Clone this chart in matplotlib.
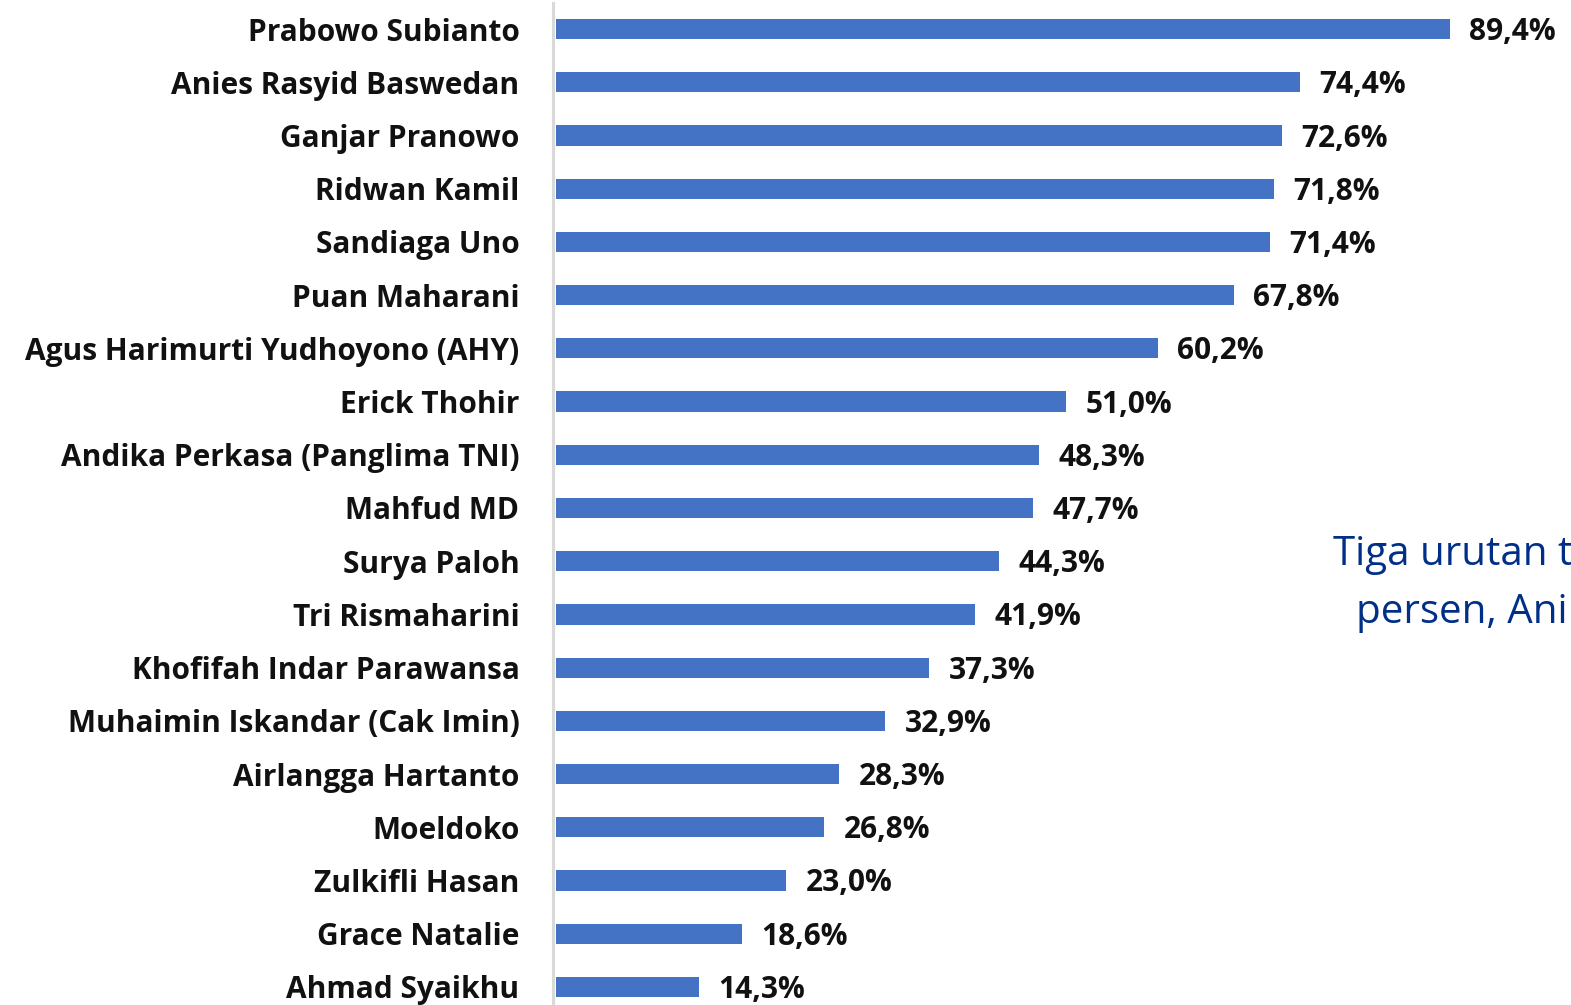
import matplotlib
matplotlib.use("Agg")
import matplotlib.pyplot as plt

names = ["Prabowo Subianto", "Anies Rasyid Baswedan", "Ganjar Pranowo", "Ridwan Kamil",
         "Sandiaga Uno", "Puan Maharani", "Agus Harimurti Yudhoyono (AHY)", "Erick Thohir",
         "Andika Perkasa (Panglima TNI)", "Mahfud MD", "Surya Paloh", "Tri Rismaharini",
         "Khofifah Indar Parawansa", "Muhaimin Iskandar (Cak Imin)", "Airlangga Hartanto",
         "Moeldoko", "Zulkifli Hasan", "Grace Natalie", "Ahmad Syaikhu"]
values = [89.4, 74.4, 72.6, 71.8, 71.4, 67.8, 60.2, 51.0, 48.3, 47.7, 44.3, 41.9,
          37.3, 32.9, 28.3, 26.8, 23.0, 18.6, 14.3]
note_lines = ["Tiga urutan t", "persen, Ani"]

W, H = 1571, 1005
fig = plt.figure(figsize=(W / 100, H / 100), dpi=100)
left_px, top_px = 555.5, 3
ax = fig.add_axes([left_px / W, 0, 1 - left_px / W, 1 - top_px / H])

font = "Open Sans"
ypos = list(range(len(names)))
for s in ["top", "right", "bottom"]:
    ax.spines[s].set_visible(False)
ax.spines["left"].set_position(("outward", 2))
ax.spines["left"].set_color("#D9D9D9")
ax.spines["left"].set_linewidth(2.2)

ax.barh(ypos, values, height=0.38, color="#4472C4", zorder=2)
ax.set_ylim(18.34, -0.49)
ax.set_xlim(0, (W - left_px) / 10.0)

for y, v in zip(ypos, values):
    ax.annotate(f"{v:.1f}%".replace(".", ","), xy=(v, y), xytext=(20, -3),
                textcoords="offset pixels", va="center", ha="left",
                fontsize=21.5, fontweight="bold", family=font, color="#111111")

ax.set_yticks(ypos)
ax.set_yticklabels(names, fontsize=21.5, fontweight="bold", family=font, color="#111111")
ax.tick_params(axis="y", length=0, pad=24)
ax.set_xticks([])

fig.text(1333 / W, 1 - 555 / H, note_lines[0], fontsize=29, family=font,
         color="#002F87", va="center", ha="left")
fig.text(1356 / W, 1 - 613 / H, note_lines[1], fontsize=29, family=font,
         color="#002F87", va="center", ha="left")

fig.savefig("out.png", dpi=100)
